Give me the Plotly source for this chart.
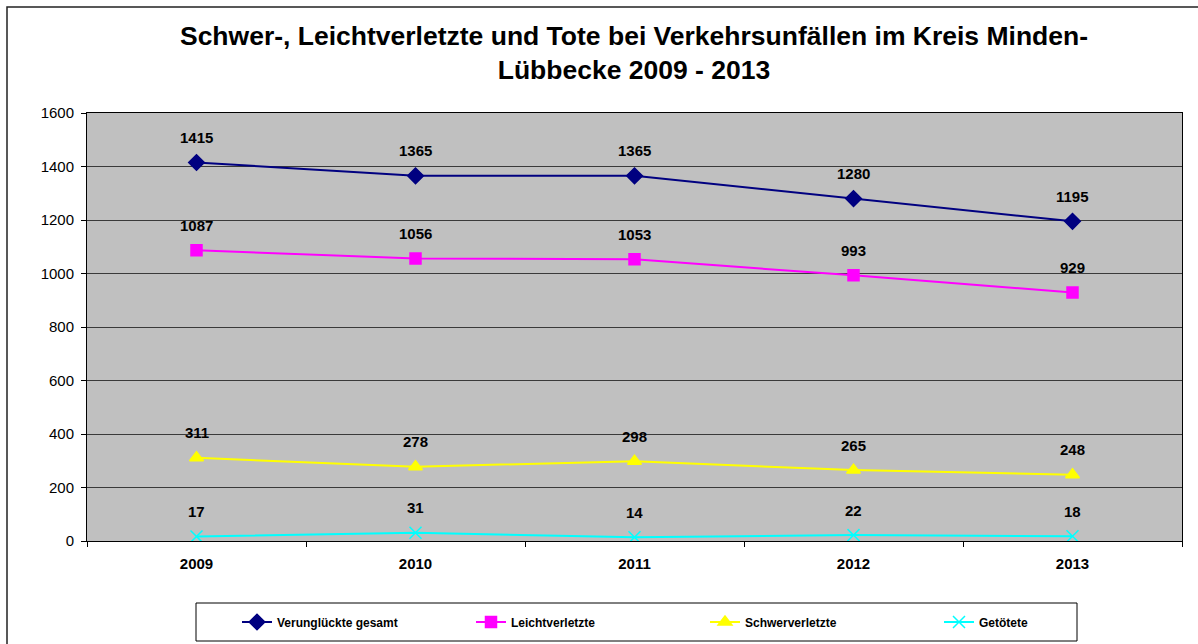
import plotly.graph_objects as go

years = ["2009", "2010", "2011", "2012", "2013"]
gesamt = [1415, 1365, 1365, 1280, 1195]
leicht = [1087, 1056, 1053, 993, 929]
schwer = [311, 278, 298, 265, 248]
getoetet = [17, 31, 14, 22, 18]
y_ticks = [0, 200, 400, 600, 800, 1000, 1200, 1400, 1600]

series = [
    ("Verunglückte gesamt", gesamt, "#000080", "diamond", 12),
    ("Leichtverletzte", leicht, "#ff00ff", "square", 11),
    ("Schwerverletzte", schwer, "#ffff00", "triangle-up", 12),
    ("Getötete", getoetet, "#00ffff", "x-thin-open", 12),
]

W, H = 1198, 644
L, R, T, B = 87, 16, 113, 103
pw, ph = W - L - R, H - T - B

def px_x(px):
    return (px - L) / pw

def px_y(py):
    return (H - B - py) / ph

FONT = "Arial, Liberation Sans, sans-serif"

fig = go.Figure()
annotations = []
for name, vals, color, sym, size in series:
    fig.add_trace(go.Scatter(
        x=years, y=vals, name=name, mode="lines+markers",
        line=dict(color=color, width=2),
        marker=dict(symbol=sym, size=size, color=color,
                    line=dict(color=color, width=1.5)),
    ))
    for i, yv in enumerate(vals):
        annotations.append(dict(
            x=i, y=yv, xref="x", yref="y", text=f"<b>{yv}</b>",
            showarrow=False, yshift=25,
            font=dict(family=FONT, size=15, color="black"),
        ))

fig.update_layout(
    width=W, height=H,
    margin=dict(l=L, r=R, t=T, b=B, autoexpand=False),
    paper_bgcolor="white",
    plot_bgcolor="#c0c0c0",
    title=dict(
        text="<b>Schwer-, Leichtverletzte und Tote bei Verkehrsunfällen im Kreis Minden-<br>Lübbecke 2009 - 2013</b>",
        x=px_x(634), xref="paper", xanchor="center",
        y=1 - 45 / H, yanchor="middle",
        font=dict(family=FONT, size=26.5, color="black"),
    ),
    xaxis=dict(
        type="category", range=[-0.5, 4.5],
        showline=True, linecolor="black", linewidth=1, mirror=True,
        ticks="outside", tickson="boundaries", ticklen=5, tickcolor="black",
        ticklabelstandoff=9,
        showgrid=False,
        tickfont=dict(family=FONT, size=15, color="black", weight="bold"),
    ),
    yaxis=dict(
        range=[0, 1600], tickvals=y_ticks,
        showline=True, linecolor="black", linewidth=1, mirror=True,
        ticks="outside", ticklen=5, tickcolor="black",
        ticklabelstandoff=4,
        showgrid=True, gridcolor="#3a3a3a", gridwidth=1,
        zeroline=False,
        tickfont=dict(family=FONT, size=15, color="black"),
    ),
    showlegend=True,
    legend=dict(
        orientation="h",
        x=px_x(237), xanchor="left",
        y=px_y(622), yanchor="middle",
        bgcolor="rgba(0,0,0,0)", borderwidth=0,
        entrywidth=189, entrywidthmode="pixels",
        font=dict(family=FONT, size=12, color="black", weight="bold"),
        itemclick=False,
    ),
    annotations=annotations,
    shapes=[
        dict(type="rect", xref="paper", yref="paper",
             x0=px_x(7), x1=px_x(1230), y0=px_y(700), y1=px_y(7),
             line=dict(color="#222", width=1.5), layer="below"),
        dict(type="rect", xref="paper", yref="paper",
             x0=px_x(196), x1=px_x(1077), y0=px_y(641), y1=px_y(603),
             line=dict(color="black", width=1)),
    ],
)

fig.write_html("out.html", config={"displayModeBar": False},
               post_script="document.body.style.margin='0';")
